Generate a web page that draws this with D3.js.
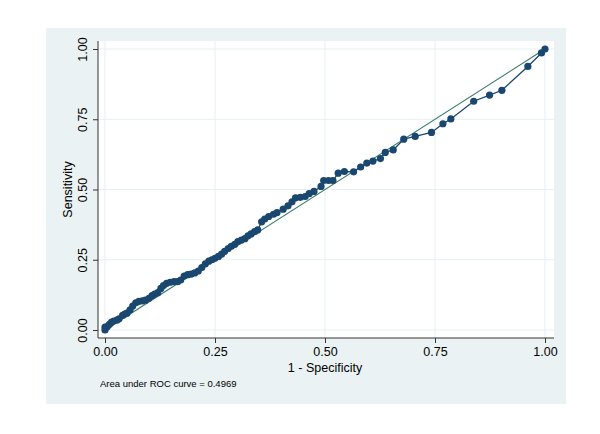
<html>
<head>
	<meta http-equiv="Content-Type" content="text/html; charset=utf-8" />
	<script src="https://cdn.jsdelivr.net/npm/d3@7/dist/d3.min.js" charset="utf-8"></script>
	<style type="text/css">
	body {
		background-color: #FFFFFF;
		margin: 0;
	}
	svg text {
		font-family: "Liberation Sans", Arial, sans-serif;
	}
	</style>
</head>
<body>
	<svg width="600" height="434" version="1.1" xmlns="http://www.w3.org/2000/svg"></svg>

	<script type="text/javascript">
		/* 1 - Specificity */
		var v_FPR = [0, 0, 0.005, 0.01, 0.015, 0.02, 0.027, 0.032, 0.04, 0.045, 0.05, 0.057, 0.063, 0.07,
		             0.077, 0.085, 0.092, 0.1, 0.107, 0.113, 0.12, 0.127, 0.133, 0.14, 0.148, 0.157, 0.165,
		             0.172, 0.18, 0.188, 0.196, 0.204, 0.212, 0.22, 0.228, 0.236, 0.243, 0.25, 0.258, 0.265,
		             0.272, 0.28, 0.287, 0.295, 0.302, 0.31, 0.318, 0.325, 0.332, 0.34, 0.347, 0.356, 0.363,
		             0.372, 0.383, 0.391, 0.405, 0.416, 0.425, 0.433, 0.444, 0.455, 0.464, 0.475, 0.491,
		             0.497, 0.508, 0.518, 0.53, 0.544, 0.565, 0.581, 0.595, 0.609, 0.626, 0.637, 0.655,
		             0.679, 0.705, 0.742, 0.768, 0.786, 0.838, 0.874, 0.902, 0.961, 0.992, 1];
		/* Sensitivity */
		var v_TPR = [0, 0.01, 0.012, 0.02, 0.028, 0.032, 0.035, 0.04, 0.052, 0.057, 0.06, 0.072, 0.085, 0.097,
		             0.102, 0.104, 0.106, 0.113, 0.122, 0.128, 0.133, 0.148, 0.158, 0.166, 0.17, 0.172, 0.172,
		             0.178, 0.192, 0.197, 0.199, 0.203, 0.21, 0.222, 0.235, 0.245, 0.25, 0.255, 0.262, 0.27,
		             0.28, 0.29, 0.298, 0.305, 0.315, 0.32, 0.325, 0.335, 0.342, 0.35, 0.356, 0.385, 0.395,
		             0.404, 0.412, 0.418, 0.43, 0.442, 0.456, 0.47, 0.472, 0.475, 0.485, 0.493, 0.511,
		             0.532, 0.532, 0.532, 0.558, 0.564, 0.563, 0.58, 0.594, 0.601, 0.61, 0.632, 0.641,
		             0.679, 0.689, 0.703, 0.734, 0.751, 0.814, 0.836, 0.853, 0.938, 0.986, 1];
		var v_Ticks = [0, 0.25, 0.5, 0.75, 1];
		var v_AUC   = "0.4969";

		var v_SVG = d3.select("svg");

		/* 外框与绘图区 */
		var v_Plot = {left: 98, top: 41, right: 554, bottom: 338};

		v_SVG.append("rect")
		.attr("x", 46).attr("y", 28).attr("width", 520).attr("height", 376)
		.attr("fill", "#EAF2F3");

		v_SVG.append("rect")
		.attr("x", v_Plot.left).attr("y", v_Plot.top)
		.attr("width", v_Plot.right - v_Plot.left).attr("height", v_Plot.bottom - v_Plot.top)
		.attr("fill", "#FFFFFF");

		var v_X = d3.scaleLinear().domain([0, 1]).range([105, 545]);
		var v_Y = d3.scaleLinear().domain([0, 1]).range([330, 49]);

		/* 网格线 */
		v_SVG.append("g").selectAll("line").data(v_Ticks).enter().append("line")
		.attr("x1", function(d) { return v_X(d); }).attr("x2", function(d) { return v_X(d); })
		.attr("y1", v_Plot.top).attr("y2", v_Plot.bottom)
		.attr("stroke", "#E6EFF1").attr("stroke-width", 1);

		v_SVG.append("g").selectAll("line").data(v_Ticks).enter().append("line")
		.attr("x1", v_Plot.left).attr("x2", v_Plot.right)
		.attr("y1", function(d) { return v_Y(d); }).attr("y2", function(d) { return v_Y(d); })
		.attr("stroke", "#E6EFF1").attr("stroke-width", 1);

		/* 坐标轴 */
		var v_XAxis = v_SVG.append("g")
		.attr("transform", "translate(0," + v_Plot.bottom + ")")
		.call(d3.axisBottom(v_X).tickValues(v_Ticks).tickFormat(d3.format(".2f")).tickSize(5).tickSizeOuter(0));

		var v_YAxis = v_SVG.append("g")
		.attr("transform", "translate(" + v_Plot.left + ",0)")
		.call(d3.axisLeft(v_Y).tickValues(v_Ticks).tickFormat(d3.format(".2f")).tickSize(5).tickSizeOuter(0));

		[v_XAxis, v_YAxis].forEach(function(g)
		{
			g.select(".domain").remove();
			g.selectAll(".tick line").attr("stroke", "#333333");
			g.selectAll(".tick text").attr("fill", "#000000").style("font-size", "12.5px");
		});

		v_XAxis.selectAll(".tick text").attr("y", 9);

		v_YAxis.selectAll(".tick text")
		.attr("x", 0).attr("y", 0).attr("dy", 0)
		.attr("text-anchor", "middle")
		.attr("transform", "translate(-11,0) rotate(-90)");

		v_SVG.append("line")
		.attr("x1", v_Plot.left).attr("x2", v_Plot.right)
		.attr("y1", v_Plot.bottom).attr("y2", v_Plot.bottom)
		.attr("stroke", "#333333").attr("stroke-width", 1);

		v_SVG.append("line")
		.attr("x1", v_Plot.left).attr("x2", v_Plot.left)
		.attr("y1", v_Plot.top).attr("y2", v_Plot.bottom)
		.attr("stroke", "#333333").attr("stroke-width", 1);

		/* 参考线 */
		v_SVG.append("line")
		.attr("x1", v_X(0)).attr("y1", v_Y(0))
		.attr("x2", v_X(1)).attr("y2", v_Y(1))
		.attr("stroke", "#3A7D6B").attr("stroke-width", 1.2);

		/* ROC 曲线 */
		var v_Data = v_FPR.map(function(d, i) { return [d, v_TPR[i]]; });

		var v_Line = d3.line()
		.x(function(d) { return v_X(d[0]); })
		.y(function(d) { return v_Y(d[1]); });

		v_SVG.append("path")
		.attr("d", v_Line(v_Data))
		.attr("fill", "none")
		.attr("stroke", "#1A476F")
		.attr("stroke-width", 1.3);

		v_SVG.append("g").selectAll("circle").data(v_Data).enter().append("circle")
		.attr("cx", function(d) { return v_X(d[0]); })
		.attr("cy", function(d) { return v_Y(d[1]); })
		.attr("r", 3.6)
		.attr("fill", "#1A476F");

		/* 标题文字 */
		v_SVG.append("text")
		.attr("x", (v_Plot.left + v_Plot.right) / 2 - 1).attr("y", 372)
		.attr("text-anchor", "middle")
		.style("font-size", "12.5px")
		.text("1 - Specificity");

		v_SVG.append("text")
		.attr("transform", "translate(72," + ((v_Plot.top + v_Plot.bottom) / 2) + ") rotate(-90)")
		.attr("text-anchor", "middle")
		.style("font-size", "12.5px")
		.text("Sensitivity");

		v_SVG.append("text")
		.attr("x", 100).attr("y", 387)
		.style("font-size", "9.5px")
		.text("Area under ROC curve = " + v_AUC);
	</script>
</body>
</html>
